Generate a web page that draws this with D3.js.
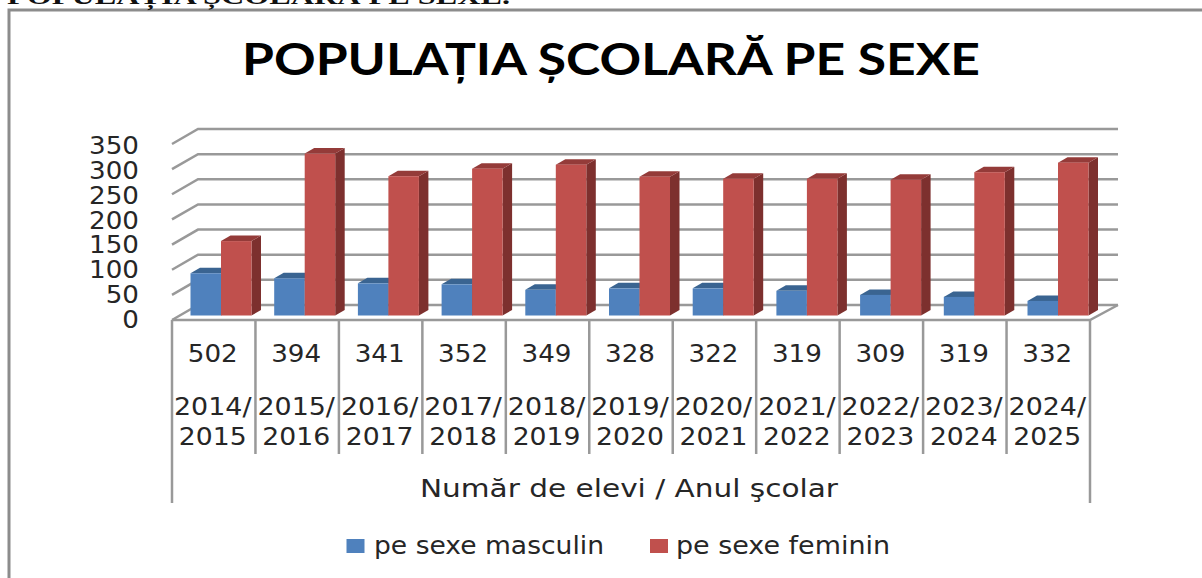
<!DOCTYPE html>
<html>
<head>
<meta charset="utf-8">
<script src="https://cdn.jsdelivr.net/npm/d3@7"></script>
<style>
html,body{margin:0;padding:0;background:#fff;overflow:hidden}
</style>
</head>
<body>
<script>
var years=['2014/2015','2015/2016','2016/2017','2017/2018','2018/2019','2019/2020','2020/2021','2021/2022','2022/2023','2023/2024','2024/2025'];
var totals=['502','394','341','352','349','328','322','319','309','319','332'];
var masculin=[84,74,64,62,51,54,54,49,41,37,29];
var feminin=[148,322,277,292,300,276,272,272,270,285,304];
var ticks=[0,50,100,150,200,250,300,350];

var svg=d3.select('body').append('svg').attr('width',1202).attr('height',578);
var grey='#999';
var txt='#262626';
var font='"DejaVu Sans"';

// the reference is stretched sideways, so text gets widened a bit
function stretch(sel,k){
	sel.each(function(){
		this.setAttribute('textLength',this.getComputedTextLength()*k);
		this.setAttribute('lengthAdjust','spacingAndGlyphs');
	});
	return sel;
}

// chart frame
svg.append('path').attr('d','M9,578V10H1202').attr('fill','none').attr('stroke','#8c8c8c').attr('stroke-width',3);

// line of document text cut by the frame
svg.append('text').attr('x',7).attr('y',4).attr('font-family','"Liberation Serif"').attr('font-weight','bold')
	.attr('font-size',23).attr('textLength',503).attr('lengthAdjust','spacingAndGlyphs').attr('fill','#111').text('POPULAȚIA ȘCOLARĂ PE SEXE.');

svg.append('text').attr('x',611).attr('y',75).attr('text-anchor','middle').attr('font-family','Lato').attr('font-weight','bold')
	.attr('font-size',43).attr('textLength',738).attr('lengthAdjust','spacingAndGlyphs').attr('fill','#000').text('POPULAȚIA ȘCOLARĂ PE SEXE');

// scales, walls are offset from the floor front by dx,dy
var dx=26,dy=-15;
var x=d3.scaleBand().domain(years).range([172,1090]);
var xBar=d3.scaleBand().domain(years).range([179.15,1099.85]);
var yBack=d3.scaleLinear().domain([0,350]).range([305,129]);
var yBar=d3.scaleLinear().domain([0,350]).range([315.5,139.5]);
var yLab=d3.scaleLinear().domain([0,350]).range([328,154]);

// gridlines + side wall
svg.append('g').selectAll('path').data(ticks).enter().append('path')
	.attr('d',function(d){
		var y0=yBack(d);
		return 'M172,'+(y0-dy)+'L'+(172+dx)+','+y0+'H1118';
	})
	.attr('fill','none').attr('stroke',grey).attr('stroke-width',2.5);

// floor
svg.append('path').attr('d','M172,320H1090L1118,305').attr('fill','none').attr('stroke',grey).attr('stroke-width',2.5);

// y labels
stretch(svg.append('g').selectAll('text').data(ticks).enter().append('text')
	.attr('x',139).attr('y',function(d){return yLab(d)})
	.attr('text-anchor','end').attr('font-family',font).attr('font-size',24).attr('fill',txt)
	.text(function(d){return d}),1.09);

// 3d bars
var dep=9.5,dep2=-5.5;
function bar(g,x0,w,v,front,top,side){
	var yt=yBar(v),yb=yBar(0);
	g.append('path').attr('d','M'+(x0+w)+','+yb+'L'+(x0+w+dep)+','+(yb+dep2)+'V'+(yt+dep2)+'L'+(x0+w)+','+yt+'Z').attr('fill',side);
	g.append('path').attr('d','M'+x0+','+yt+'L'+(x0+dep)+','+(yt+dep2)+'H'+(x0+w+dep)+'L'+(x0+w)+','+yt+'Z').attr('fill',top);
	g.append('rect').attr('x',x0).attr('y',yt).attr('width',w).attr('height',yb-yt).attr('fill',front);
}
var bars=svg.append('g');
var bw=30.5;
years.forEach(function(c,i){
	var cx=xBar(c)+xBar.bandwidth()/2;
	bar(bars,cx-bw,bw,masculin[i],'#4f81bd','#3a6491','#2f5277');
	bar(bars,cx,bw,feminin[i],'#c0504d','#943b39','#7d302e');
});

// multi level category axis
var tickXs=x.domain().map(function(c){return x(c)}).concat([1090]);
svg.append('g').selectAll('line').data(tickXs).enter().append('line')
	.attr('x1',function(d){return d}).attr('x2',function(d){return d})
	.attr('y1',320).attr('y2',function(d,i){return (i==0||i==11)?503:454})
	.attr('stroke',grey).attr('stroke-width',2.5);

var lab=svg.append('g').attr('font-family',font).attr('font-size',24).attr('fill',txt).attr('text-anchor','middle');
years.forEach(function(c,i){
	var cx=x(c)+x.bandwidth()/2-1;
	var p=c.split('/');
	stretch(lab.append('text').attr('x',cx).attr('y',362).text(totals[i]),1.09);
	stretch(lab.append('text').attr('x',cx).attr('y',415).text(p[0]+'/'),1.12);
	stretch(lab.append('text').attr('x',cx).attr('y',445).text(p[1]),1.11);
});
lab.append('text').attr('x',629).attr('y',497).attr('font-size',25).attr('textLength',418).attr('lengthAdjust','spacingAndGlyphs').text('Număr de elevi / Anul şcolar');

// legend
var legend=svg.append('g').attr('font-family',font).attr('font-size',24).attr('fill',txt);
[['pe sexe masculin','#4f81bd',346.5,374,230],['pe sexe feminin','#c0504d',650,676,214]].forEach(function(l){
	legend.append('rect').attr('x',l[2]).attr('y',539).attr('width',18).attr('height',14).attr('fill',l[1]);
	legend.append('text').attr('x',l[3]).attr('y',554).attr('textLength',l[4]).attr('lengthAdjust','spacingAndGlyphs').text(l[0]);
});
</script>
</body>
</html>
